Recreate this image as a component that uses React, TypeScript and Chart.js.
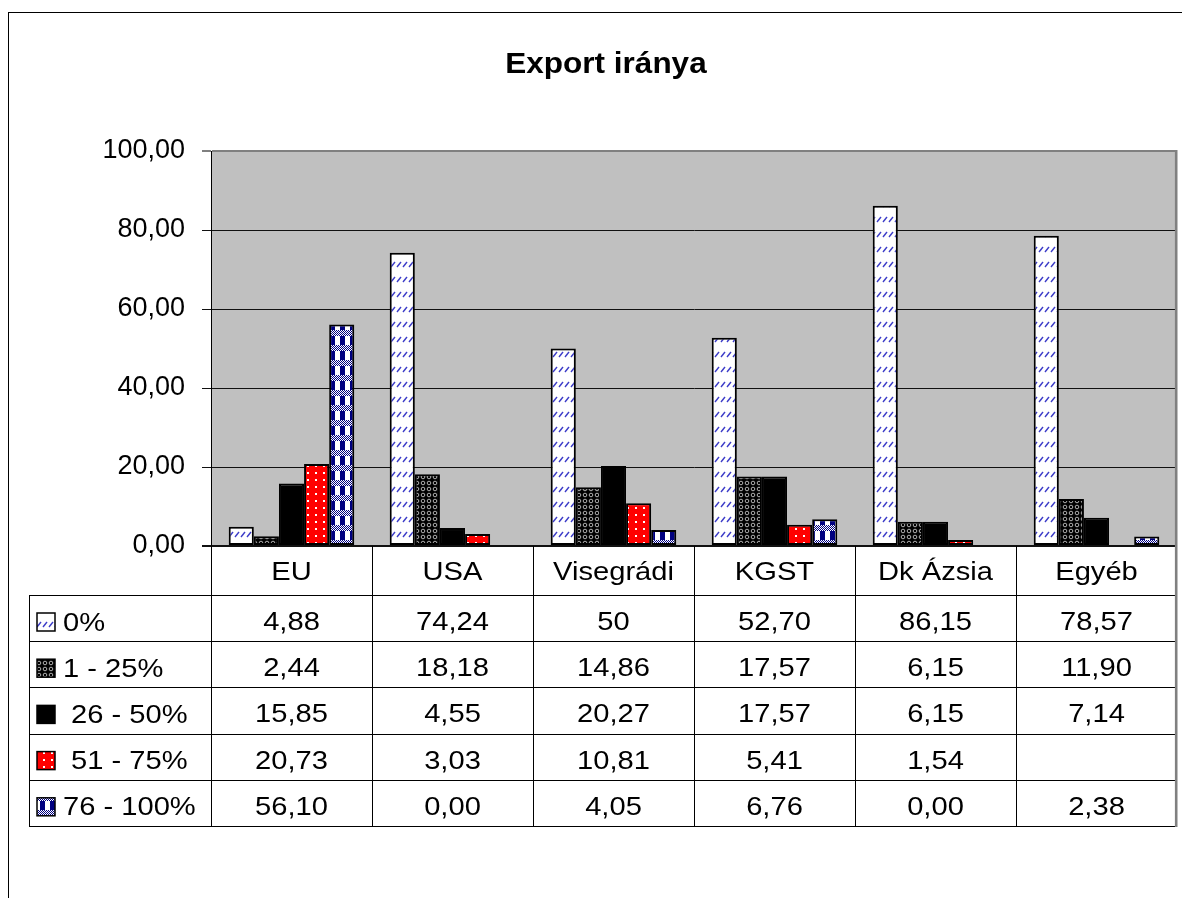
import { useEffect, useRef } from 'react';
import { Chart, registerables } from 'chart.js';

Chart.register(...registerables);

const chartTitle = 'Export iránya';
const categories = ['EU', 'USA', 'Visegrádi', 'KGST', 'Dk Ázsia', 'Egyéb'];
const seriesNames = ['0%', '1 - 25%', ' 26 - 50%', ' 51 - 75%', '76 - 100%'];

const series0 = [4.88, 74.24, 50, 52.7, 86.15, 78.57];
const series1 = [2.44, 18.18, 14.86, 17.57, 6.15, 11.9];
const series2 = [15.85, 4.55, 20.27, 17.57, 6.15, 7.14];
const series3: (number | null)[] = [20.73, 3.03, 10.81, 5.41, 1.54, null];
const series4 = [56.1, 0.0, 4.05, 6.76, 0.0, 2.38];

const labels0 = ['4,88', '74,24', '50', '52,70', '86,15', '78,57'];
const labels1 = ['2,44', '18,18', '14,86', '17,57', '6,15', '11,90'];
const labels2 = ['15,85', '4,55', '20,27', '17,57', '6,15', '7,14'];
const labels3 = ['20,73', '3,03', '10,81', '5,41', '1,54', ''];
const labels4 = ['56,10', '0,00', '4,05', '6,76', '0,00', '2,38'];

const yTicks = [0, 20, 40, 60, 80, 100];

const FONT = '"Liberation Sans", Arial, sans-serif';

function makeTile(w: number, h: number, draw: (g: CanvasRenderingContext2D) => void) {
  const c = document.createElement('canvas');
  c.width = w;
  c.height = h;
  const g = c.getContext('2d')!;
  draw(g);
  return c;
}

function buildPatterns(ctx: CanvasRenderingContext2D) {
  const t0 = makeTile(6, 15, (g) => {
    g.fillStyle = '#ffffff';
    g.fillRect(0, 0, 6, 15);
    g.strokeStyle = '#3c3cc8';
    g.lineWidth = 1.4;
    g.beginPath();
    g.moveTo(1, 12);
    g.lineTo(5, 7);
    g.stroke();
  });
  const t1 = makeTile(6, 6, (g) => {
    g.fillStyle = '#000000';
    g.fillRect(0, 0, 6, 6);
    g.strokeStyle = '#d8d8d8';
    g.lineWidth = 0.8;
    g.beginPath();
    g.arc(3, 3, 1.8, 0, Math.PI * 2);
    g.stroke();
  });
  const t3 = makeTile(8, 7, (g) => {
    g.fillStyle = '#ff0000';
    g.fillRect(0, 0, 8, 7);
    g.fillStyle = '#ffffff';
    g.fillRect(3, 3, 2, 2);
  });
  const t4 = makeTile(10, 15, (g) => {
    g.fillStyle = '#ffffff';
    g.fillRect(0, 0, 10, 15);
    g.fillStyle = '#000080';
    g.fillRect(0, 0, 5, 15);
    for (let y = 0; y < 6; y++) {
      for (let x = 0; x < 10; x++) {
        g.fillStyle = (x + y) % 2 === 0 ? '#000080' : '#ffffff';
        g.fillRect(x, y, 1, 1);
      }
    }
  });
  return [
    ctx.createPattern(t0, 'repeat')!,
    ctx.createPattern(t1, 'repeat')!,
    '#000000',
    ctx.createPattern(t3, 'repeat')!,
    ctx.createPattern(t4, 'repeat')!,
  ];
}

function stretchedText(
  ctx: CanvasRenderingContext2D,
  text: string,
  x: number,
  y: number,
  align: 'left' | 'center',
  sx: number
) {
  ctx.save();
  ctx.translate(x, y);
  ctx.scale(sx, 1);
  ctx.textAlign = align;
  ctx.textBaseline = 'alphabetic';
  ctx.fillText(text, 0, 0);
  ctx.restore();
}

export default function App() {
  const ref = useRef<HTMLCanvasElement>(null);

  useEffect(() => {
    const canvas = ref.current!;
    const ctx = canvas.getContext('2d')!;
    const fills = buildPatterns(ctx);
    const seriesValues = [series0, series1, series2, series3, series4];
    const tableLabels = [labels0, labels1, labels2, labels3, labels4];

    const excelPlugin = {
      id: 'excelLook',
      beforeDraw(chart: any) {
        const { ctx: c, chartArea: a, width, height } = chart;
        c.save();
        c.fillStyle = '#ffffff';
        c.fillRect(0, 0, width, height);
        c.fillStyle = '#c0c0c0';
        c.fillRect(a.left, a.top, a.right - a.left, a.bottom - a.top);
        c.restore();
      },
      afterDraw(chart: any) {
        const { ctx: c, chartArea: a } = chart;
        const xs = chart.scales.x;
        const n = categories.length;
        const colW = (a.right - a.left) / n;
        const headerTop = a.bottom;
        const headerBottom = headerTop + 49;
        const rowH = 46.2;
        const tableBottom = headerBottom + rowH * seriesNames.length;
        const tableLeft = 29;

        c.save();
        // outer chart border
        c.strokeStyle = '#000000';
        c.lineWidth = 1;
        c.strokeRect(8.5, 12.5, 1300, 1000);

        // title
        c.fillStyle = '#000000';
        c.font = `bold 30px ${FONT}`;
        stretchedText(c, chartTitle, 606, 73, 'center', 1.05);

        // table lines
        c.strokeStyle = '#000000';
        c.lineWidth = 1;
        c.beginPath();
        for (let i = 0; i < n; i++) {
          const left = Math.round(xs.getPixelForValue(i) - colW / 2) + 0.5;
          c.moveTo(left, headerTop);
          c.lineTo(left, tableBottom);
        }
        c.moveTo(tableLeft + 0.5, headerBottom);
        c.lineTo(tableLeft + 0.5, tableBottom);
        for (let r = 0; r <= seriesNames.length; r++) {
          const y = Math.round(headerBottom + r * rowH) + 0.5;
          c.moveTo(tableLeft, y);
          c.lineTo(a.right, y);
        }
        c.stroke();

        // right gray border of plot + table
        c.strokeStyle = '#808080';
        c.lineWidth = 2.6;
        c.beginPath();
        c.moveTo(a.right - 0.8, a.top - 1);
        c.lineTo(a.right - 0.8, tableBottom + 1);
        c.stroke();

        // category labels
        c.fillStyle = '#000000';
        c.font = `26px ${FONT}`;
        for (let i = 0; i < n; i++) {
          stretchedText(c, categories[i], xs.getPixelForValue(i), headerTop + 34, 'center', 1.12);
        }

        // rows
        for (let r = 0; r < seriesNames.length; r++) {
          const top = headerBottom + r * rowH;
          c.fillStyle = fills[r] as any;
          c.fillRect(37, top + 18, 18, 18);
          c.strokeStyle = '#000000';
          c.lineWidth = 1.5;
          c.strokeRect(37, top + 18, 18, 18);
          c.fillStyle = '#000000';
          stretchedText(c, seriesNames[r], 63, top + 35.5, 'left', 1.12);
          for (let i = 0; i < n; i++) {
            const t = tableLabels[r][i];
            if (t) stretchedText(c, t, xs.getPixelForValue(i), top + 35, 'center', 1.12);
          }
        }
        c.restore();
      },
    };

    const chart = new Chart(canvas, {
      type: 'bar',
      data: {
        labels: categories,
        datasets: seriesValues.map((vals, i) => ({
          label: seriesNames[i],
          data: vals as any,
          backgroundColor: fills[i] as any,
          borderColor: '#000000',
          borderWidth: 2,
          borderSkipped: false as any,
          categoryPercentage: 0.78,
          barPercentage: 1,
        })),
      },
      options: {
        responsive: false,
        devicePixelRatio: 1,
        animation: false,
        events: [],
        layout: { padding: { top: 151, left: 0, right: 5, bottom: 352 } },
        plugins: {
          legend: { display: false },
          title: { display: false },
          tooltip: { enabled: false },
        },
        scales: {
          x: {
            display: false,
            offset: true,
            grid: { display: false },
          },
          y: {
            min: 0,
            max: 100,
            afterFit: (s: any) => {
              s.width = 211;
            },
            afterBuildTicks: (s: any) => {
              s.ticks = yTicks.map((v) => ({ value: v }));
            },
            ticks: {
              stepSize: 20,
              padding: 17,
              color: '#000000',
              font: { family: FONT, size: 27 },
              callback: (v: any) => Number(v).toFixed(2).replace('.', ','),
            },
            grid: {
              drawTicks: true,
              tickLength: 9,
              color: (c: any) => (c.tick && c.tick.value === 100 ? '#808080' : '#111111'),
              lineWidth: (c: any) =>
                c.tick && (c.tick.value === 100 || c.tick.value === 0) ? 2 : 1,
            },
            border: { display: true, color: '#000000', width: 1 },
          },
        },
      },
      plugins: [excelPlugin],
    });

    return () => chart.destroy();
  }, []);

  return (
    <div style={{ position: 'absolute', left: 0, top: 0, width: 1182, height: 898 }}>
      <canvas ref={ref} width={1182} height={898} style={{ display: 'block' }} />
    </div>
  );
}
